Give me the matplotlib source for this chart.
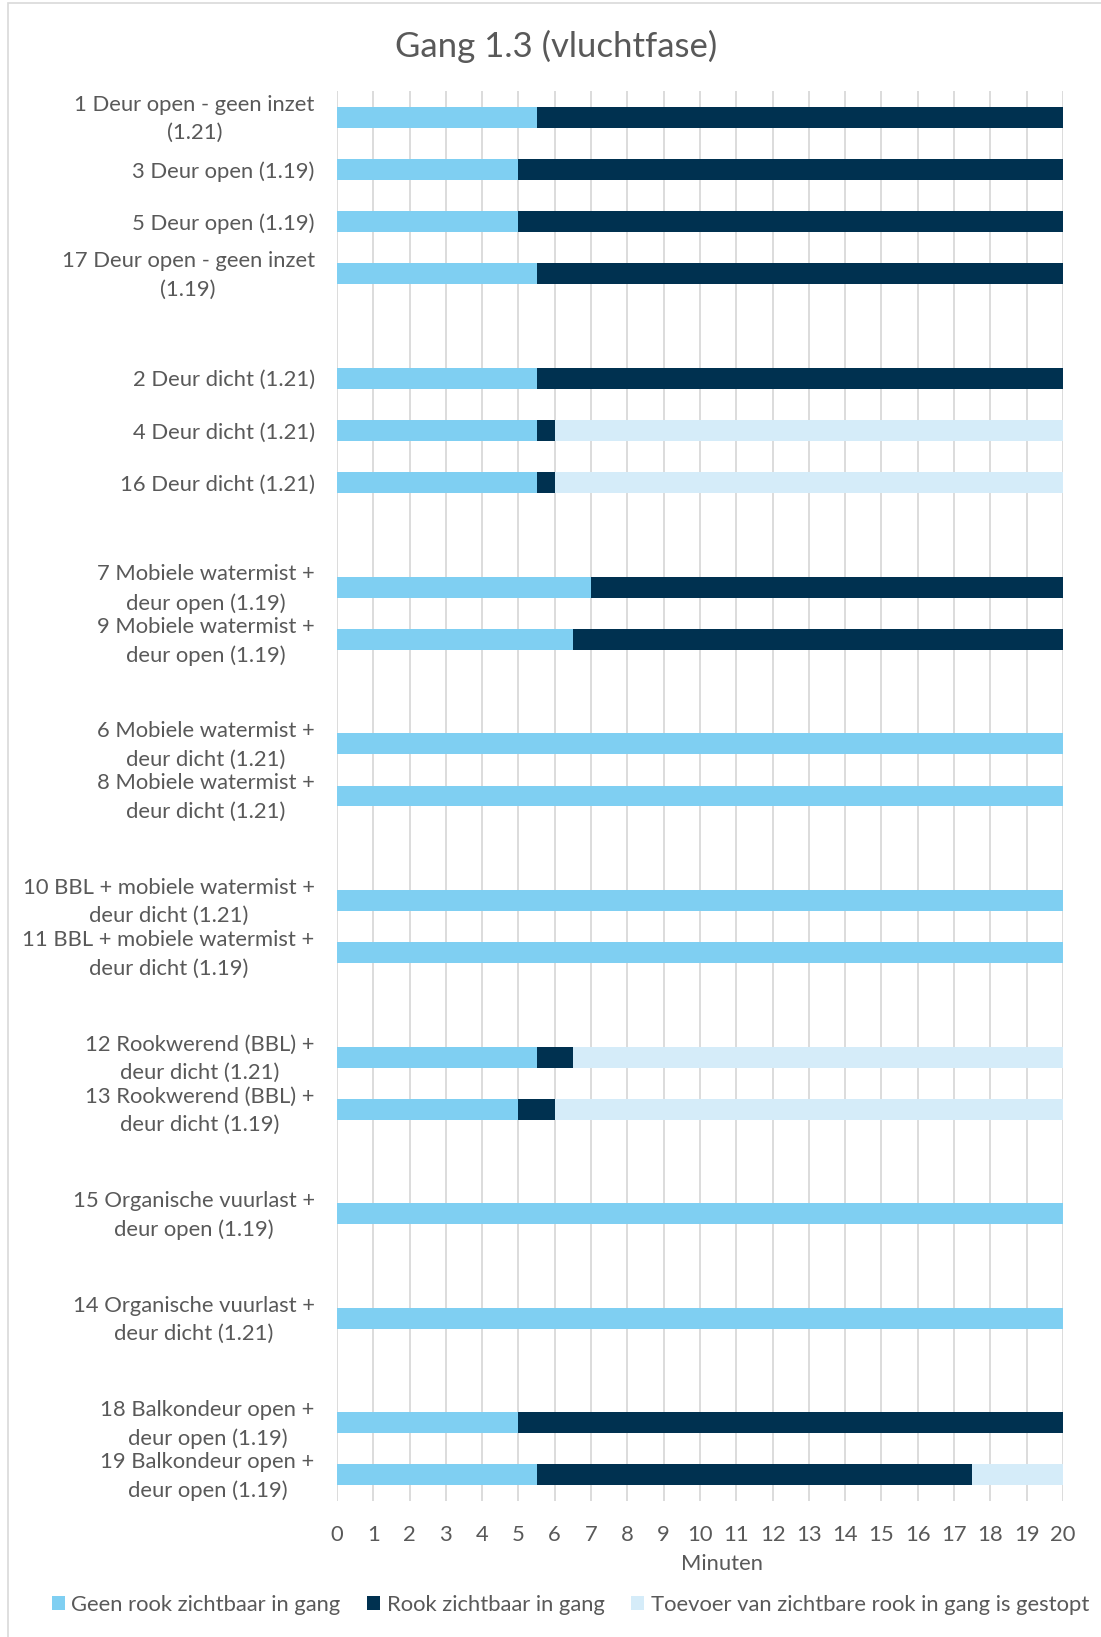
import matplotlib
matplotlib.use("Agg")
import matplotlib.pyplot as plt
import matplotlib.transforms as mtransforms
from matplotlib.patches import Rectangle
import numpy as np

plt.rcParams['font.family'] = ['Lato', 'DejaVu Sans']

title = "Gang 1.3 (vluchtfase)"
categories = [
    "1 Deur open - geen inzet\n(1.21)",
    "3 Deur open (1.19)",
    "5 Deur open (1.19)",
    "17 Deur open - geen inzet\n(1.19)",
    "",
    "2 Deur dicht (1.21)",
    "4 Deur dicht (1.21)",
    "16 Deur dicht (1.21)",
    "",
    "7 Mobiele watermist +\ndeur open (1.19)",
    "9 Mobiele watermist +\ndeur open (1.19)",
    "",
    "6 Mobiele watermist +\ndeur dicht (1.21)",
    "8 Mobiele watermist +\ndeur dicht (1.21)",
    "",
    "10 BBL + mobiele watermist +\ndeur dicht (1.21)",
    "11 BBL + mobiele watermist +\ndeur dicht (1.19)",
    "",
    "12 Rookwerend (BBL) +\ndeur dicht (1.21)",
    "13 Rookwerend (BBL) +\ndeur dicht (1.19)",
    "",
    "15 Organische vuurlast +\ndeur open (1.19)",
    "",
    "14 Organische vuurlast +\ndeur dicht (1.21)",
    "",
    "18 Balkondeur open +\ndeur open (1.19)",
    "19 Balkondeur open +\ndeur open (1.19)",
]
geen_rook = [5.5, 5.0, 5.0, 5.5, 0, 5.5, 5.5, 5.5, 0, 7.0, 6.5, 0, 20, 20, 0, 20, 20, 0,
             5.5, 5.0, 0, 20, 0, 20, 0, 5.0, 5.5]
rook = [14.5, 15.0, 15.0, 14.5, 0, 14.5, 0.5, 0.5, 0, 13.0, 13.5, 0, 0, 0, 0, 0, 0, 0,
        1.0, 1.0, 0, 0, 0, 0, 0, 15.0, 12.0]
toevoer = [0, 0, 0, 0, 0, 0, 14.0, 14.0, 0, 0, 0, 0, 0, 0, 0, 0, 0, 0,
           13.5, 14.0, 0, 0, 0, 0, 0, 0, 2.5]
series_names = ["Geen rook zichtbaar in gang", "Rook zichtbaar in gang",
                "Toevoer van zichtbare rook in gang is gestopt"]
x_ticks = list(range(0, 21))
x_label = "Minuten"

c1, c2, c3 = "#7fcff2", "#003150", "#d5ecf9"
txt = "#595959"
fs = 15.8

fig = plt.figure(figsize=(11.01, 16.37), dpi=100)
ax = fig.add_axes([0.306, 0.0831, 0.6595, 0.8613])

y = np.arange(len(categories))
g = np.array(geen_rook, dtype=float)
r = np.array(rook, dtype=float)
t = np.array(toevoer, dtype=float)
h = 0.40
ax.barh(y, g, height=h, color=c1, label=series_names[0], zorder=3)
ax.barh(y, r, left=g, height=h, color=c2, label=series_names[1], zorder=3)
ax.barh(y, t, left=g + r, height=h, color=c3, label=series_names[2], zorder=3)

ax.set_xlim(0, 20)
ax.set_ylim(len(categories) - 0.5, -0.5)
ax.set_xticks(x_ticks)
ax.set_xticklabels([str(v) for v in x_ticks], color=txt, fontsize=fs)
ax.set_yticks(y)
ax.set_yticklabels(categories, color=txt, fontsize=fs, multialignment='center',
                   linespacing=1.52)
ax.tick_params(axis='both', length=0)
ax.tick_params(axis='y', pad=16)
ax.tick_params(axis='x', pad=17)
ax.grid(axis='x', color="#d9d9d9", linewidth=1.3, zorder=0)
ax.grid(axis='y', visible=False)
for s in ax.spines.values():
    s.set_visible(False)

# nudge multi-line labels up slightly
shift = mtransforms.ScaledTranslation(0, 4.5 / 100, fig.dpi_scale_trans)
for lab in ax.get_yticklabels():
    if "\n" in lab.get_text():
        lab.set_transform(lab.get_transform() + shift)

ax.set_xlabel(x_label, color=txt, fontsize=fs, labelpad=7)
ax.xaxis.label.set_x(0.53)

fig.text(0.505, 0.9715, title, ha='center', va='center', color=txt, fontsize=25)

leg = fig.legend(loc='center', bbox_to_anchor=(0.518, 0.0195), ncol=3, frameon=False,
                 fontsize=fs, handlelength=0.6, handleheight=0.6, handletextpad=0.3,
                 columnspacing=1.2, borderaxespad=0)
for tx in leg.get_texts():
    tx.set_color(txt)

fig.patches.append(Rectangle((8 / 1101, -0.1), 1.2, 1 - 3 / 1637 + 0.1,
                             transform=fig.transFigure, fill=False,
                             edgecolor="#d9d9d9", linewidth=1.2))

fig.savefig("out.png", dpi=100, facecolor="white")
